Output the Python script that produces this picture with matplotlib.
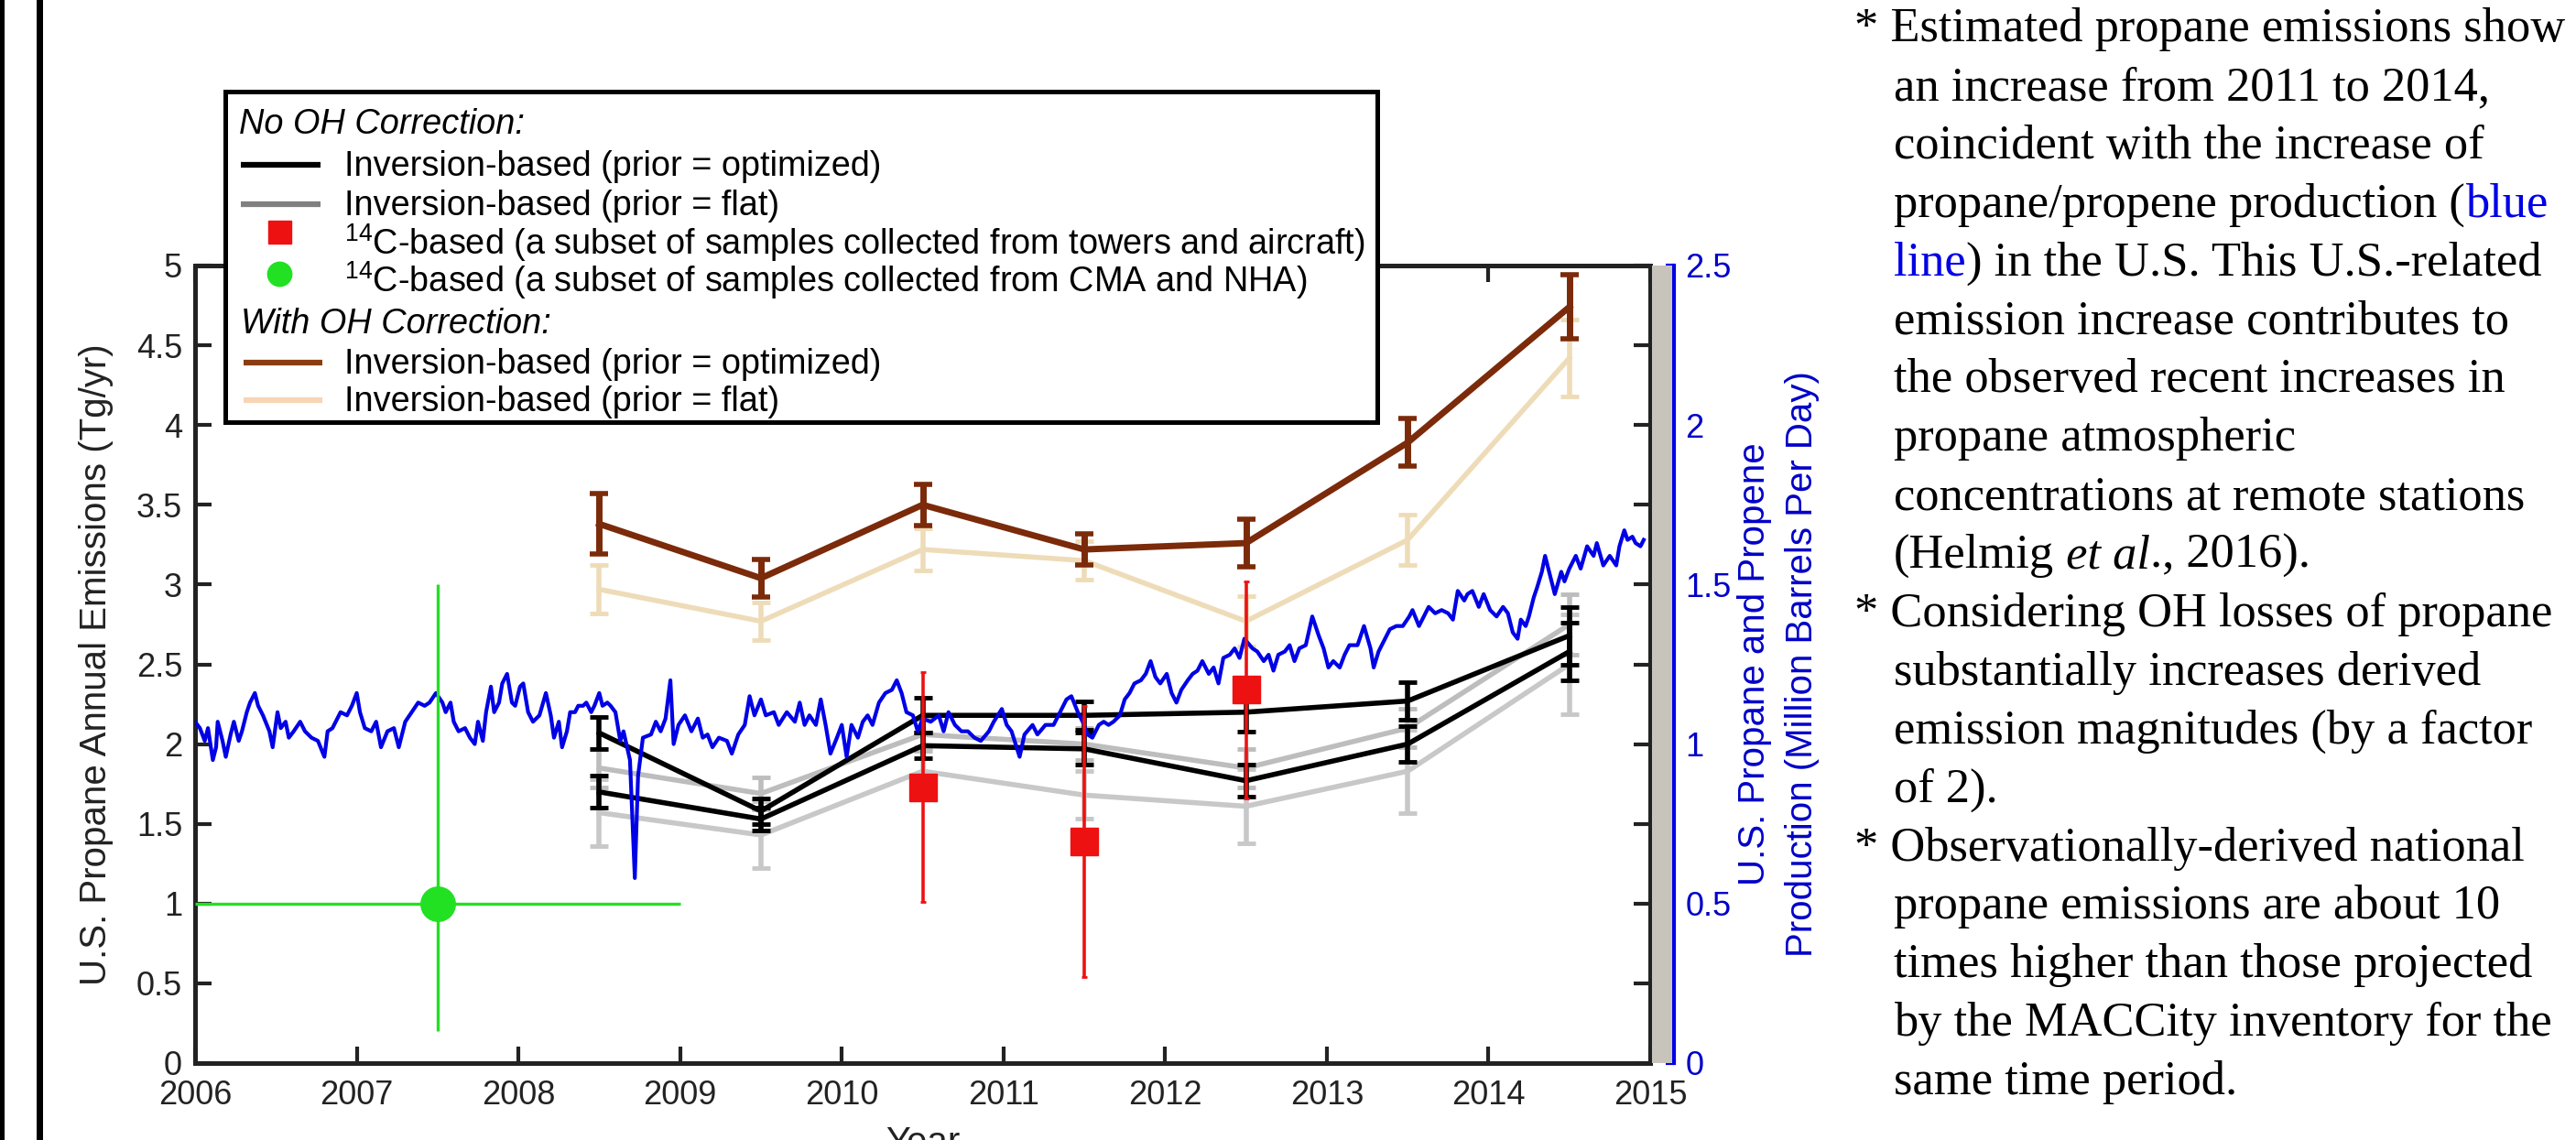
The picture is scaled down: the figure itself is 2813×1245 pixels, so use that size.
import matplotlib
matplotlib.use('Agg')
import matplotlib.pyplot as plt
from matplotlib.patches import Rectangle

plt.rcParams['font.family'] = 'Liberation Sans'
plt.rcParams['mathtext.fontset'] = 'custom'
plt.rcParams['mathtext.rm'] = 'Liberation Sans'
plt.rcParams['mathtext.it'] = 'Liberation Sans:italic'

# annual inversion estimates (Tg/yr), mid-year
years = [2008.5, 2009.5, 2010.5, 2011.5, 2012.5, 2013.5, 2014.5]

opt_1 = [2.07, 1.58, 2.18, 2.18, 2.20, 2.27, 2.68]
opt_1_err = [0.10, 0.08, 0.11, 0.09, 0.12, 0.12, 0.18]
opt_2 = [1.70, 1.53, 1.99, 1.97, 1.77, 2.00, 2.58]
opt_2_err = [0.10, 0.07, 0.08, 0.10, 0.10, 0.11, 0.18]
flat_1 = [1.85, 1.69, 2.06, 2.00, 1.85, 2.10, 2.75]
flat_1_err = [0.12, 0.10, 0.10, 0.10, 0.12, 0.12, 0.19]
flat_2 = [1.57, 1.43, 1.83, 1.68, 1.61, 1.83, 2.50]
flat_2_err = [0.21, 0.21, 0.15, 0.15, 0.23, 0.26, 0.31]

oh_opt = [3.38, 3.04, 3.50, 3.22, 3.26, 3.89, 4.74]
oh_opt_err = [0.19, 0.12, 0.13, 0.10, 0.15, 0.15, 0.20]
oh_flat = [2.97, 2.77, 3.22, 3.15, 2.77, 3.28, 4.42]
oh_flat_err = [0.15, 0.12, 0.13, 0.12, 0.16, 0.16, 0.24]

# 14C-based estimates
tower_years = [2010.5, 2011.5, 2012.5]
tower_vals = [1.73, 1.39, 2.34]
tower_err = [0.72, 0.85, 0.68]
cma_years = [2007.5]
cma_vals = [1.0]
cma_xerr = [1.5]
cma_yerr_low = [0.8]
cma_yerr_high = [2.0]

# U.S. propane/propene production (million barrels per day)
prod_year = [
    2006.00, 2006.03, 2006.06, 2006.08, 2006.11, 2006.13, 2006.14, 2006.17, 2006.19, 2006.22,
    2006.24, 2006.27, 2006.29, 2006.32, 2006.34, 2006.37, 2006.39, 2006.42, 2006.46, 2006.48,
    2006.51, 2006.53, 2006.56, 2006.58, 2006.61, 2006.65, 2006.68, 2006.72, 2006.76, 2006.80,
    2006.82, 2006.85, 2006.87, 2006.90, 2006.94, 2006.97, 2007.00, 2007.02, 2007.05, 2007.09,
    2007.12, 2007.15, 2007.19, 2007.23, 2007.26, 2007.30, 2007.34, 2007.38, 2007.42, 2007.45,
    2007.49, 2007.53, 2007.55, 2007.58, 2007.60, 2007.63, 2007.67, 2007.70, 2007.73, 2007.75,
    2007.78, 2007.80, 2007.83, 2007.85, 2007.88, 2007.90, 2007.93, 2007.96, 2007.98, 2008.01,
    2008.03, 2008.06, 2008.09, 2008.13, 2008.17, 2008.20, 2008.22, 2008.25, 2008.27, 2008.30,
    2008.32, 2008.35, 2008.37, 2008.40, 2008.42, 2008.45, 2008.47, 2008.50, 2008.52, 2008.55,
    2008.57, 2008.60, 2008.63, 2008.65, 2008.69, 2008.72, 2008.74, 2008.77, 2008.82, 2008.85,
    2008.88, 2008.91, 2008.94, 2008.96, 2008.99, 2009.03, 2009.07, 2009.11, 2009.14, 2009.17,
    2009.20, 2009.24, 2009.29, 2009.32, 2009.36, 2009.40, 2009.43, 2009.46, 2009.50, 2009.53,
    2009.58, 2009.61, 2009.66, 2009.71, 2009.74, 2009.77, 2009.80, 2009.84, 2009.87, 2009.90,
    2009.93, 2009.97, 2010.00, 2010.03, 2010.06, 2010.10, 2010.13, 2010.16, 2010.19, 2010.23,
    2010.27, 2010.31, 2010.34, 2010.37, 2010.40, 2010.44, 2010.47, 2010.50, 2010.55, 2010.60,
    2010.63, 2010.66, 2010.70, 2010.74, 2010.78, 2010.82, 2010.86, 2010.91, 2010.94, 2010.99,
    2011.02, 2011.05, 2011.10, 2011.13, 2011.18, 2011.21, 2011.26, 2011.31, 2011.36, 2011.39,
    2011.42, 2011.46, 2011.49, 2011.52, 2011.55, 2011.59, 2011.62, 2011.65, 2011.68, 2011.72,
    2011.75, 2011.78, 2011.81, 2011.85, 2011.88, 2011.91, 2011.94, 2011.97, 2012.01, 2012.04,
    2012.07, 2012.10, 2012.14, 2012.17, 2012.20, 2012.23, 2012.27, 2012.30, 2012.33, 2012.36,
    2012.40, 2012.43, 2012.46, 2012.49, 2012.54, 2012.57, 2012.61, 2012.64, 2012.67, 2012.70,
    2012.74, 2012.77, 2012.80, 2012.83, 2012.87, 2012.91, 2012.95, 2012.98, 2013.01, 2013.04,
    2013.08, 2013.11, 2013.14, 2013.19, 2013.23, 2013.27, 2013.29, 2013.32, 2013.36, 2013.39,
    2013.43, 2013.47, 2013.51, 2013.53, 2013.57, 2013.60, 2013.63, 2013.67, 2013.71, 2013.75,
    2013.78, 2013.81, 2013.85, 2013.87, 2013.90, 2013.94, 2013.97, 2014.01, 2014.05, 2014.09,
    2014.12, 2014.15, 2014.18, 2014.20, 2014.23, 2014.25, 2014.28, 2014.30, 2014.33, 2014.35,
    2014.38, 2014.41, 2014.45, 2014.47, 2014.50, 2014.54, 2014.57, 2014.61, 2014.65, 2014.67,
    2014.71, 2014.75, 2014.79, 2014.81, 2014.84, 2014.86, 2014.89, 2014.91, 2014.94, 2014.96,
]
prod_mbd = [
    1.07, 1.05, 1.01, 1.05, 0.95, 0.99, 1.07, 1.01, 0.96, 1.03,
    1.07, 1.01, 1.04, 1.10, 1.13, 1.16, 1.12, 1.09, 1.04, 0.99,
    1.10, 1.05, 1.07, 1.02, 1.04, 1.07, 1.04, 1.02, 1.01, 0.96,
    1.04, 1.05, 1.07, 1.10, 1.09, 1.12, 1.16, 1.10, 1.05, 1.04,
    1.07, 0.99, 1.04, 1.05, 0.99, 1.07, 1.10, 1.13, 1.12, 1.13,
    1.16, 1.13, 1.10, 1.13, 1.07, 1.04, 1.05, 1.02, 1.00, 1.07,
    1.01, 1.10, 1.18, 1.10, 1.13, 1.19, 1.22, 1.13, 1.12, 1.18,
    1.19, 1.10, 1.07, 1.09, 1.16, 1.09, 1.02, 1.07, 0.99, 1.04,
    1.10, 1.10, 1.12, 1.12, 1.13, 1.10, 1.12, 1.16, 1.12, 1.13,
    1.12, 1.10, 1.01, 1.04, 0.95, 0.58, 0.90, 1.02, 1.03, 1.07,
    1.04, 1.08, 1.20, 1.00, 1.06, 1.09, 1.04, 1.08, 1.02, 1.03,
    0.99, 1.02, 1.01, 0.97, 1.03, 1.06, 1.15, 1.09, 1.14, 1.09,
    1.10, 1.06, 1.10, 1.07, 1.13, 1.06, 1.09, 1.06, 1.14, 1.06,
    0.97, 1.02, 1.06, 0.96, 1.06, 1.02, 1.07, 1.09, 1.06, 1.13,
    1.16, 1.17, 1.20, 1.16, 1.10, 1.09, 1.04, 1.08, 1.07, 1.09,
    1.04, 1.10, 1.06, 1.04, 1.04, 1.02, 1.01, 1.04, 1.07, 1.11,
    1.06, 1.04, 0.96, 1.03, 1.06, 1.03, 1.06, 1.06, 1.11, 1.14,
    1.15, 1.10, 1.07, 1.03, 1.02, 1.06, 1.07, 1.06, 1.07, 1.09,
    1.14, 1.16, 1.19, 1.20, 1.22, 1.26, 1.21, 1.19, 1.22, 1.16,
    1.13, 1.17, 1.20, 1.22, 1.23, 1.26, 1.22, 1.24, 1.19, 1.27,
    1.28, 1.30, 1.27, 1.33, 1.30, 1.29, 1.26, 1.28, 1.23, 1.28,
    1.29, 1.31, 1.26, 1.30, 1.31, 1.40, 1.34, 1.30, 1.24, 1.26,
    1.24, 1.28, 1.31, 1.31, 1.37, 1.30, 1.24, 1.29, 1.33, 1.36,
    1.37, 1.37, 1.40, 1.42, 1.37, 1.40, 1.43, 1.41, 1.42, 1.41,
    1.39, 1.48, 1.45, 1.47, 1.48, 1.43, 1.47, 1.42, 1.40, 1.43,
    1.41, 1.35, 1.33, 1.39, 1.37, 1.40, 1.46, 1.49, 1.54, 1.59,
    1.53, 1.47, 1.54, 1.51, 1.55, 1.59, 1.55, 1.62, 1.59, 1.63,
    1.56, 1.59, 1.56, 1.62, 1.67, 1.64, 1.65, 1.63, 1.62, 1.64,
]

left_ticks = [0, 0.5, 1, 1.5, 2, 2.5, 3, 3.5, 4, 4.5, 5]
right_ticks = [0, 0.5, 1, 1.5, 2, 2.5]
year_ticks = list(range(2006, 2016))

W, H = 2813, 1245
fig = plt.figure(figsize=(W / 100, H / 100), dpi=100)
fig.patch.set_facecolor('white')

ax = fig.add_axes([213 / W, 84 / H, 1589 / W, 871 / H])
ax2 = ax.twinx()

ink = '#222222'
blue = '#0000e6'

# no OH correction
ekw = dict(lw=4, elinewidth=4, capsize=7, capthick=3.5)
ax.errorbar(years, flat_2, yerr=flat_2_err, color='#c8c8c8', zorder=2, **ekw)
ax.errorbar(years, flat_1, yerr=flat_1_err, color='#bdbdbd', zorder=2, **ekw)
ax.errorbar(years, opt_2, yerr=opt_2_err, color='black', zorder=3, **ekw)
ax.errorbar(years, opt_1, yerr=opt_1_err, color='black', zorder=3, **ekw)

# with OH correction
ax.errorbar(years, oh_flat, yerr=oh_flat_err, color='#eedcb8', zorder=4, **ekw)
ax.errorbar(years, oh_opt, yerr=oh_opt_err, color='#7b2a0a', zorder=5,
            lw=5, elinewidth=5, capsize=7, capthick=4)

# production on the right-hand scale, drawn inside ax so the markers sit above it
ax.plot(prod_year, prod_mbd, color=blue, lw=3, zorder=6, transform=ax2.transData)

ax.errorbar(tower_years, tower_vals, yerr=tower_err, fmt='s', color='#ee1111',
            ms=21, elinewidth=2.6, capsize=2, capthick=2, zorder=7)
ax.errorbar(cma_years, cma_vals, xerr=cma_xerr, yerr=[cma_yerr_low, cma_yerr_high],
            fmt='o', color='#22e022', ms=27, elinewidth=2.4, zorder=7)

ax.set_xlim(2006, 2015)
ax.set_ylim(0, 5)
ax.set_xticks(year_ticks)
ax.set_xticklabels([str(y) for y in year_ticks])
ax.set_yticks(left_ticks)
ax.set_yticklabels(['%g' % v for v in left_ticks])
ax.tick_params(direction='in', length=13, width=3, top=True, right=True,
               labelsize=26, colors=ink)
ax.tick_params(axis='x', pad=13)
ax.tick_params(axis='y', pad=10)
for s in ax.spines.values():
    s.set_linewidth(3.6)
    s.set_color(ink)

ax.set_ylabel('U.S. Propane Annual Emissions (Tg/yr)', fontsize=29, color=ink)
ax.yaxis.set_label_coords(-0.056, 0.5)
ax.set_xlabel('Year', fontsize=29, color=ink)
ax.xaxis.set_label_coords(0.5, -0.078)

ax2.set_ylim(0, 2.5)
ax2.set_yticks(right_ticks)
ax2.set_yticklabels(['%g' % v for v in right_ticks])
ax2.spines['right'].set_position(('outward', 26 * 0.72))
ax2.spines['right'].set_color(blue)
ax2.spines['right'].set_linewidth(3)
for side in ['left', 'top', 'bottom']:
    ax2.spines[side].set_visible(False)
ax2.tick_params(axis='y', direction='in', length=6.5, width=3, color=blue,
                labelcolor='#0000c8', labelsize=26, pad=9)
ax2.set_ylabel('U.S. Propane and Propene\nProduction (Million Barrels Per Day)',
               fontsize=29, color='#0000c8', linespacing=1.45)
ax2.yaxis.set_label_coords(1.06, 0.5)

# pixel overlay for the legend box, frame bars and notes
ov = fig.add_axes([0, 0, 1, 1], zorder=10)
ov.set_xlim(0, W)
ov.set_ylim(H, 0)
ov.axis('off')
ov.patch.set_visible(False)

ov.add_patch(Rectangle((0, 0), 5, H, color='black', lw=0))
ov.add_patch(Rectangle((40, 0), 7, H, color='black', lw=0))
ov.add_patch(Rectangle((1804, 290), 22, 871, color='#c8c4bc', lw=0))

ov.add_patch(Rectangle((246, 100), 1258, 361, facecolor='white',
                       edgecolor='black', lw=3.6))
leg_fs = 27.3
ov.text(261, 146, 'No OH Correction:', fontsize=leg_fs, fontstyle='italic', va='baseline')
ov.plot([263, 350], [180, 180], color='black', lw=4.5, solid_capstyle='butt')
ov.text(376, 192, 'Inversion-based (prior = optimized)', fontsize=leg_fs, va='baseline')
ov.plot([263, 350], [223, 223], color='#808080', lw=4.5, solid_capstyle='butt')
ov.text(376, 235, 'Inversion-based (prior = flat)', fontsize=leg_fs, va='baseline')
ov.plot([305], [253], 's', color='#ee1111', ms=18)
ov.text(376, 278, r'$\mathregular{^{14}}$C-based (a subset of samples collected from towers and aircraft)',
        fontsize=leg_fs, va='baseline')
ov.plot([305], [299], 'o', color='#22e022', ms=19)
ov.text(376, 319, r'$\mathregular{^{14}}$C-based (a subset of samples collected from CMA and NHA)',
        fontsize=leg_fs, va='baseline')
ov.text(263, 364, 'With OH Correction:', fontsize=leg_fs, fontstyle='italic', va='baseline')
ov.plot([266, 352], [396, 396], color='#8b3d12', lw=4.5, solid_capstyle='butt')
ov.text(376, 408, 'Inversion-based (prior = optimized)', fontsize=leg_fs, va='baseline')
ov.plot([266, 352], [437, 437], color='#f8d5b5', lw=4.5, solid_capstyle='butt')
ov.text(376, 449, 'Inversion-based (prior = flat)', fontsize=leg_fs, va='baseline')

# notes column
renderer = fig.canvas.get_renderer()
K = 'black'


def note_line(x, y, pieces):
    for text, color, style in pieces:
        t = ov.text(x, y, text, color=color, fontstyle=style, family='Liberation Serif',
                    fontsize=37.8, va='baseline', ha='left')
        x += t.get_window_extent(renderer).width


notes = [
    (2025, [('* Estimated propane emissions show', K, 'normal')]),
    (2068, [('an increase from 2011 to 2014,', K, 'normal')]),
    (2068, [('coincident with the increase of', K, 'normal')]),
    (2068, [('propane/propene production (', K, 'normal'), ('blue', blue, 'normal')]),
    (2068, [('line', blue, 'normal'), (') in the U.S. This U.S.-related', K, 'normal')]),
    (2068, [('emission increase contributes to', K, 'normal')]),
    (2068, [('the observed recent increases in', K, 'normal')]),
    (2068, [('propane atmospheric', K, 'normal')]),
    (2068, [('concentrations at remote stations', K, 'normal')]),
    (2068, [('(Helmig', K, 'normal'), (' et al', K, 'italic'), ('., 2016).', K, 'normal')]),
    (2025, [('* Considering OH losses of propane', K, 'normal')]),
    (2068, [('substantially increases derived', K, 'normal')]),
    (2068, [('emission magnitudes (by a factor', K, 'normal')]),
    (2068, [('of 2).', K, 'normal')]),
    (2025, [('* Observationally-derived national', K, 'normal')]),
    (2068, [('propane emissions are about 10', K, 'normal')]),
    (2068, [('times higher than those projected', K, 'normal')]),
    (2068, [('by the MACCity inventory for the', K, 'normal')]),
    (2068, [('same time period.', K, 'normal')]),
]
for i, (x0, pieces) in enumerate(notes):
    note_line(x0, 45 + 63.9 * i, pieces)

fig.savefig('out.png', dpi=100)
